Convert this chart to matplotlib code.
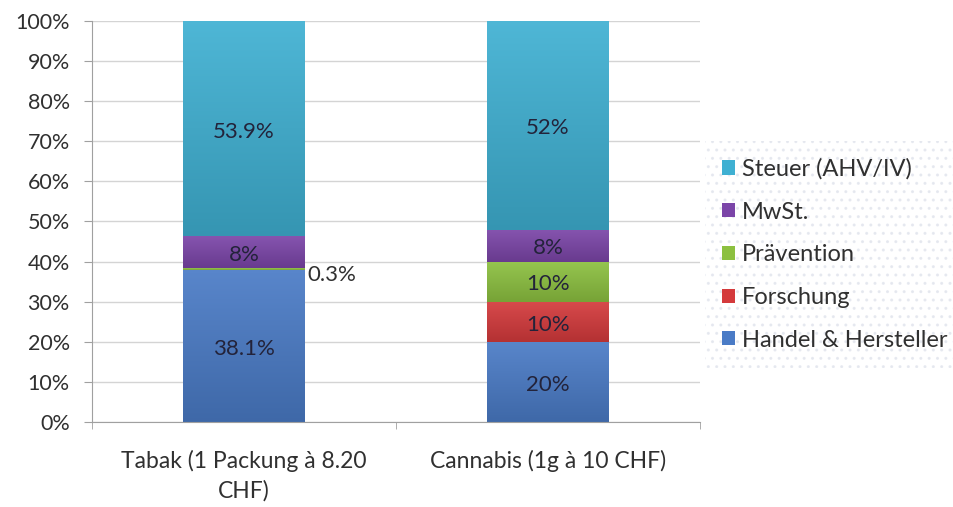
import numpy as np
import matplotlib.pyplot as plt
from matplotlib.patches import Patch
from matplotlib.colors import LinearSegmentedColormap, to_rgb

plt.rcParams['font.family'] = ['Lato', 'DejaVu Sans']

# --- Data ---
categories = ["Tabak (1 Packung à 8.20\nCHF)", "Cannabis (1g à 10 CHF)"]
series = ["Handel & Hersteller", "Forschung", "Prävention", "MwSt.", "Steuer (AHV/IV)"]
handel = [38.1, 20]
forschung = [0, 10]
praevention = [0.3, 10]
mwst = [8, 8]
steuer = [53.9, 52]
label_text = [
    ["38.1%", "", "0.3%", "8%", "53.9%"],
    ["20%", "10%", "10%", "8%", "52%"],
]

colors = ["#4a7bc6", "#d43a3c", "#8cc040", "#7b45a8", "#3fb0d2"]
text_color = "#23233a"

values = np.array([handel, forschung, praevention, mwst, steuer])
# 100% stacked: each column is scaled to its own total
shares = values / values.sum(axis=0) * 100


def shade(c, f):
    r = np.array(to_rgb(c))
    if f >= 1:
        return tuple(r + (1 - r) * (f - 1))
    return tuple(r * f)


fig = plt.figure(figsize=(9.54, 5.07), dpi=100)
ax = fig.add_axes([0.0964, 0.1677, 0.6374, 0.7909])

x = np.arange(len(categories))
bar_w = 0.4
grad = np.linspace(1, 0, 64).reshape(-1, 1)
bottom = np.zeros(len(categories))
for k, name in enumerate(series):
    bars = ax.bar(x, shares[k], bar_w, bottom=bottom, color=colors[k], zorder=2, linewidth=0)
    cmap = LinearSegmentedColormap.from_list(name, [shade(colors[k], 0.85), shade(colors[k], 1.08)])
    # soft top-to-bottom shading on each segment
    for rect in bars:
        if rect.get_height() <= 0:
            continue
        bx, by = rect.get_x(), rect.get_y()
        ax.imshow(grad, extent=[bx, bx + rect.get_width(), by, by + rect.get_height()],
                  aspect="auto", cmap=cmap, zorder=2.1, interpolation="bilinear")
    for i in range(len(categories)):
        txt = label_text[i][k]
        if not txt:
            continue
        mid = bottom[i] + shares[k][i] / 2
        if shares[k][i] < 2:
            # thin segment: label sits beside the bar
            ax.annotate(txt, (x[i] + bar_w / 2, mid), xytext=(2, -4),
                        textcoords="offset points", ha="left", va="center",
                        fontsize=16, color="#303030", zorder=3)
        else:
            ax.annotate(txt, (x[i], mid), xytext=(0, -2), textcoords="offset points",
                        ha="center", va="center", fontsize=16, color=text_color, zorder=3)
    bottom += shares[k]

ax.set_xlim(-0.5, len(categories) - 0.5)
ax.set_ylim(0, 100)
ax.set_yticks(np.arange(0, 101, 10))
ax.set_yticklabels([f"{v}%" for v in range(0, 101, 10)], fontsize=15.5, color="#303030")
ax.set_xticks(x)
ax.set_xticklabels(categories, fontsize=16.5, color="#303030", linespacing=1.45)
ax.tick_params(axis="x", length=0, pad=20)
ax.set_xticks(np.arange(-0.5, len(categories), 1), minor=True)
ax.tick_params(axis="x", which="minor", length=5, color="#a0a0a0", direction="out")
ax.tick_params(axis="y", length=6, color="#a0a0a0", pad=10)

ax.grid(axis="y", color="#d4d4d4", linewidth=1, zorder=0)
for side in ["top", "right"]:
    ax.spines[side].set_visible(False)
for side in ["left", "bottom"]:
    ax.spines[side].set_color("#a0a0a0")

handles = [Patch(facecolor=c, edgecolor="none") for c in colors]
leg = fig.legend(handles[::-1], series[::-1], loc="center left",
                 bbox_to_anchor=(0.739, 0.498), fontsize=17, frameon=True,
                 handlelength=0.55, handleheight=0.55, handletextpad=0.3,
                 labelspacing=0.92, borderpad=0.72, borderaxespad=0)
frame = leg.get_frame()
frame.set_facecolor("white")
frame.set_hatch("..")
frame.set_edgecolor("#e3e6ee")
frame.set_linewidth(0)
frame.set_boxstyle("square", pad=0)
for t in leg.get_texts():
    t.set_color("#303030")

fig.savefig("out.png", dpi=100)
